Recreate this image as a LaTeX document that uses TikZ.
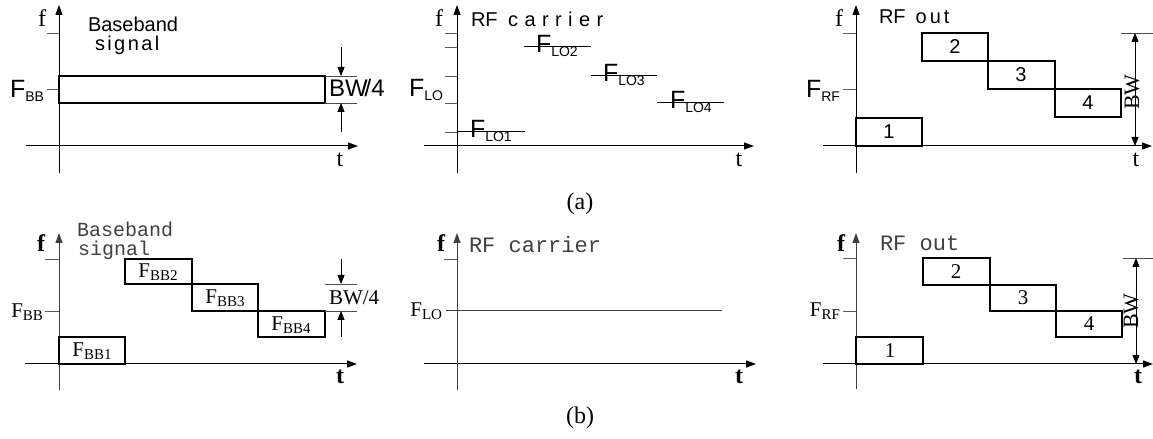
\documentclass[tikz,border=0pt]{standalone}
\usepackage{fontspec}
\usepackage{graphicx}
\setmainfont{Liberation Serif}
\newfontfamily\sansf{Liberation Sans}
\newfontfamily\monof{Liberation Mono}
\usetikzlibrary{arrows.meta}
\newcommand\ssub[1]{\raisebox{-0.3ex}{\fontsize{14bp}{14bp}\selectfont #1}}
\newcommand\rsub[1]{\raisebox{-0.3ex}{\fontsize{15bp}{15bp}\selectfont #1}}
\tikzset{
  axisline/.style={line width=1bp,-{Triangle[length=10bp,width=7bp]}},
  ticksty/.style={line width=0.9bp,draw=black!65},
  boxsty/.style={line width=1.2bp},
  extsty/.style={line width=0.8bp,draw=black!70},
  dimarr/.style={line width=0.8bp,-{Triangle[length=9bp,width=7bp]}},
  dimboth/.style={line width=0.8bp,{Triangle[length=9bp,width=7bp]}-{Triangle[length=9bp,width=7bp]}},
  lab/.style={inner sep=0pt,outer sep=0pt},
  sanslab/.style={lab,font=\sansf\fontsize{25bp}{27bp}\selectfont},
  sanssmall/.style={lab,font=\sansf\fontsize{20bp}{22bp}\selectfont},
  seriflab/.style={lab,font=\fontsize{21bp}{23bp}\selectfont},
  ftlab/.style={lab,font=\fontsize{24bp}{26bp}\selectfont},
  ftbold/.style={lab,font=\bfseries\fontsize{24bp}{26bp}\selectfont},
  monolab/.style={lab,font=\monof\fontsize{20bp}{22bp}\selectfont,text=black!75},
  monobig/.style={lab,font=\monof\fontsize{22bp}{24bp}\selectfont,text=black!75},
}
\begin{document}
\begin{tikzpicture}[x=1bp,y=-1bp]
\useasboundingbox (0,0) rectangle (1153,439);

% ================= (a) left =================
\draw[axisline] (26,146) -- (358,146);
\draw[axisline] (59,173) -- (59,5);
\draw[ticksty] (47,33) -- (59,33);
\draw[ticksty] (47,89) -- (59,89);
\draw[boxsty] (59,76) rectangle (325,103);
\draw[extsty] (325,76) -- (357,76);
\draw[extsty] (325,103) -- (357,103);
\draw[dimarr] (341,47) -- (341,76);
\draw[dimarr] (341,132) -- (341,103);
\node[ftlab,anchor=base] (af1) at (42,27) {f};
\node[ftlab,anchor=base] (at1) at (340,167) {t};
\node[sanssmall,anchor=base west] (abb1) at (88,32) {Baseband};
\node[sanssmall,anchor=base west] (abb2) at (95,51) {\addfontfeatures{LetterSpace=12}signal};
\node[sanslab,anchor=base east] (afbb) at (44,98) {F\ssub{BB}};
\node[sanslab,font=\sansf\fontsize{24bp}{26bp}\selectfont,anchor=base west] (abw) at (329,97) {BW\kern-3bp/4};

% ================= (a) middle =================
\draw[axisline] (424,146) -- (754,146);
\draw[axisline] (457,173) -- (457,5);
\foreach \yy in {33,47,76,103,132} \draw[ticksty] (445,\yy) -- (457,\yy);
\draw[line width=1bp] (457,132) -- (525,132);
\draw[line width=1bp] (524,47) -- (591,47);
\draw[line width=1bp] (591,76) -- (657,76);
\draw[line width=1bp] (657,103) -- (724,103);
\node[ftlab,anchor=base] (af2) at (439,27) {f};
\node[ftlab,anchor=base] (at2) at (739,167) {t};
\node[sanssmall,anchor=base west] (arf) at (471,27) {RF\hspace{5bp} \addfontfeatures{LetterSpace=32}carrier};
\node[sanslab,anchor=base east] (aflo) at (443,97) {F\ssub{LO}};
\node[sanslab,anchor=base west] (alo1) at (470,138) {F\ssub{LO1}};
\node[sanslab,anchor=base west] (alo2) at (536,53) {F\ssub{LO2}};
\node[sanslab,anchor=base west] (alo3) at (603,82) {F\ssub{LO3}};
\node[sanslab,anchor=base west] (alo4) at (670,109) {F\ssub{LO4}};

% ================= (a) right =================
\draw[axisline] (823,146) -- (1152,146);
\draw[axisline] (856,173) -- (856,5);
\draw[ticksty] (843,33) -- (856,33);
\draw[ticksty] (843,89) -- (856,89);
\draw[boxsty] (856,118) rectangle (922,146);
\draw[boxsty] (922,33) rectangle (988,61);
\draw[boxsty] (988,61) rectangle (1055,89);
\draw[boxsty] (1055,89) rectangle (1121,117);
\draw[extsty] (1121,33) -- (1153,33);
\draw[dimboth] (1135,33) -- (1135,146);
\node[sanslab,font=\sansf\fontsize{20bp}{22bp}\selectfont] (an1) at (889,132) {1};
\node[sanslab,font=\sansf\fontsize{20bp}{22bp}\selectfont] (an2) at (955,47) {2};
\node[sanslab,font=\sansf\fontsize{20bp}{22bp}\selectfont] (an3) at (1021,75) {3};
\node[sanslab,font=\sansf\fontsize{20bp}{22bp}\selectfont] (an4) at (1088,103) {4};
\node[lab,font=\fontsize{22bp}{24bp}\selectfont,rotate=90] (abwv) at (1132,92) {BW};
\node[ftlab,anchor=base] (af3) at (839,27) {f};
\node[ftlab,anchor=base] (at3) at (1136,167) {t};
\node[sanssmall,anchor=base west] (aout) at (879,24) {RF\hspace{10bp}\addfontfeatures{LetterSpace=15}out};
\node[sanslab,anchor=base east] (afrf) at (840,98) {F\ssub{RF}};

\node[lab,font=\fontsize{24bp}{26bp}\selectfont] (capa) at (580,204) {(a)};

% ================= (b) left =================
\draw[axisline] (25,364) -- (357,364);
\draw[axisline,draw=black!75] (59,390) -- (59,233);
\draw[ticksty] (45,259) -- (59,259);
\draw[ticksty] (45,311) -- (59,311);
\draw[boxsty] (59,337) rectangle (125,364);
\draw[boxsty] (125,259) rectangle (192,284);
\draw[boxsty] (192,284) rectangle (258,311);
\draw[boxsty] (258,311) rectangle (325,337);
\draw[extsty] (325,284) -- (357,284);
\draw[extsty] (325,311) -- (357,311);
\draw[dimarr] (341,259) -- (341,284);
\draw[dimarr] (341,337) -- (341,311);
\node[ftbold,anchor=base] (bf1) at (41,252) {f};
\node[ftbold,anchor=base] (bt1) at (340,384) {t};
\node[monolab,anchor=base west] (bbb1) at (77,237) {Baseband};
\node[monolab,anchor=base west] (bbb2) at (78,256) {signal};
\node[seriflab,anchor=base east] (bfbb) at (43,318) {F\rsub{BB}};
\node[seriflab,anchor=base] (bbb1l) at (92,357) {F\rsub{BB1}};
\node[seriflab,anchor=base] (bbb2l) at (158,278) {F\rsub{BB2}};
\node[seriflab,anchor=base] (bbb3l) at (225,304) {F\rsub{BB3}};
\node[seriflab,anchor=base] (bbb4l) at (291,331) {F\rsub{BB4}};
\node[seriflab,anchor=base west] (bbw) at (329,305) {BW/4};

% ================= (b) middle =================
\draw[axisline] (424,364) -- (756,364);
\draw[axisline,draw=black!75] (457,390) -- (457,233);
\draw[ticksty] (444,259) -- (457,259);
\draw[line width=1bp,draw=black!75] (446,311) -- (722,311);
\node[ftbold,anchor=base] (bf2) at (441,252) {f};
\node[ftbold,anchor=base] (bt2) at (739,384) {t};
\node[monobig,anchor=base west] (brf) at (469,253) {RF carrier};
\node[seriflab,anchor=base east] (bflo) at (442,317) {F\rsub{LO}};

% ================= (b) right =================
\draw[axisline] (823,364) -- (1153,364);
\draw[axisline,draw=black!75] (856,389) -- (856,233);
\draw[ticksty] (843,258) -- (856,258);
\draw[ticksty] (843,311) -- (856,311);
\draw[boxsty] (856,337) rectangle (923,364);
\draw[boxsty] (923,258) rectangle (990,285);
\draw[boxsty] (990,285) rectangle (1056,311);
\draw[boxsty] (1056,311) rectangle (1122,337);
\draw[extsty] (1123,258) -- (1153,258);
\draw[dimboth] (1136,258) -- (1136,364);
\node[seriflab] (bn1) at (890,351) {1};
\node[seriflab] (bn2) at (956,272) {2};
\node[seriflab] (bn3) at (1023,298) {3};
\node[seriflab] (bn4) at (1089,324) {4};
\node[lab,font=\fontsize{22bp}{24bp}\selectfont,rotate=90] (bbwv) at (1131,311) {BW};
\node[ftbold,anchor=base] (bf3) at (841,252) {f};
\node[ftbold,anchor=base] (bt3) at (1138,384) {t};
\node[monobig,anchor=base west] (bout) at (880,251) {RF out};
\node[seriflab,anchor=base east] (bfrf) at (840,317) {F\rsub{RF}};

\node[lab,font=\fontsize{24bp}{26bp}\selectfont] (capb) at (580,418) {(b)};
\end{tikzpicture}
\end{document}
